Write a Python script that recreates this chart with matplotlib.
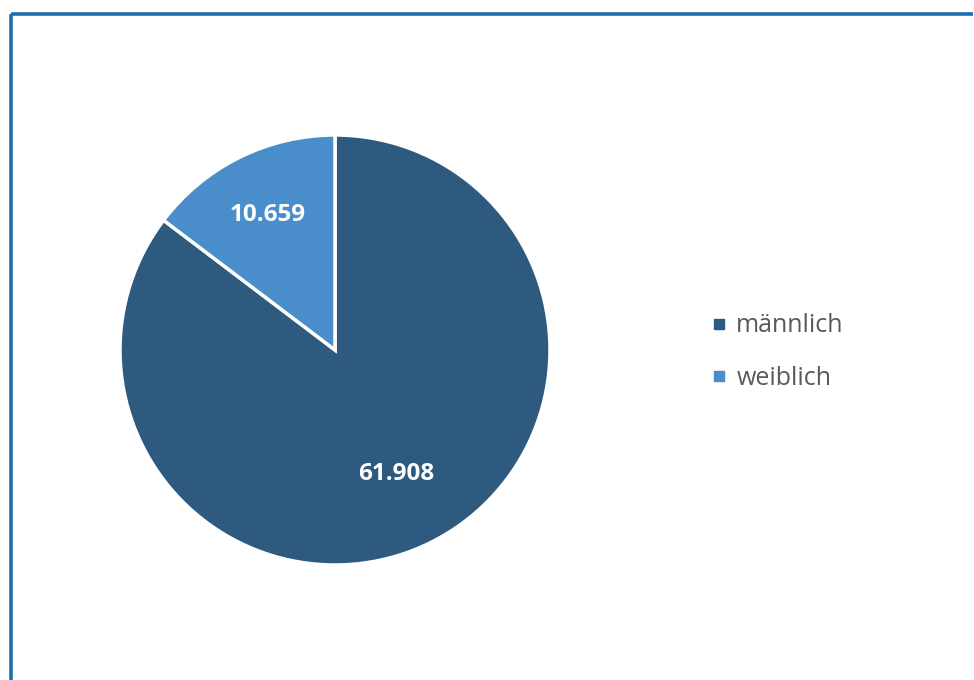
import matplotlib
matplotlib.use("Agg")
import matplotlib.pyplot as plt
from matplotlib.lines import Line2D
import numpy as np

categories = ["männlich", "weiblich"]
values = [61908, 10659]
value_labels = ["61.908", "10.659"]
colors = ["#2E5A80", "#4A8DCB"]

W, H = 974, 680
fig = plt.figure(figsize=(W / 100, H / 100), dpi=100)
fig.patch.set_facecolor("white")

# frame lines (left and top)
fig.add_artist(Line2D([11 / W, 11 / W], [0, 1 - 14 / H], transform=fig.transFigure,
                      color="#1C6FAE", lw=2.6, solid_capstyle="butt"))
fig.add_artist(Line2D([11 / W, 973 / W], [1 - 14 / H, 1 - 14 / H], transform=fig.transFigure,
                      color="#1C6FAE", lw=2.6, solid_capstyle="butt"))

cx, cy, r = 335, 350, 215
ax = fig.add_axes([(cx - r) / W, (H - cy - r) / H, 2 * r / W, 2 * r / H])
wedges, _ = ax.pie(values, colors=colors, startangle=90, counterclock=False,
                   radius=1, wedgeprops=dict(edgecolor="white", linewidth=2.5))
ax.set_xlim(-1, 1)
ax.set_ylim(-1, 1)
ax.set_aspect("equal")
ax.axis("off")

dists = [0.645, 0.70]
for w, lab, d in zip(wedges, value_labels, dists):
    ang = np.deg2rad((w.theta1 + w.theta2) / 2)
    ax.text(d * np.cos(ang), d * np.sin(ang), lab, ha="center", va="center",
            color="white", fontsize=17.5, fontweight="bold", family=["Open Sans", "DejaVu Sans"])

handles = [Line2D([0], [0], marker="s", linestyle="none", markersize=7.5,
                  markerfacecolor=c, markeredgecolor=c) for c in colors]
fig.legend(handles, categories, loc="center left",
           bbox_to_anchor=(700 / W, 1 - 352 / H), frameon=False,
           prop={"family": ["Open Sans", "DejaVu Sans"], "size": 18},
           labelcolor="#595959", handlelength=0.5, handletextpad=0.45,
           labelspacing=1.1, borderpad=0)

fig.savefig("out.png", dpi=100, facecolor="white")
